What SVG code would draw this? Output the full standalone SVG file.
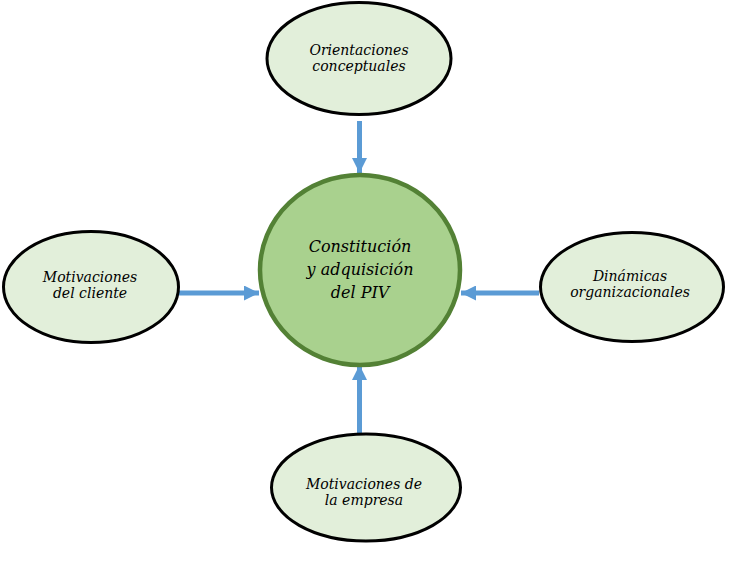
<svg xmlns="http://www.w3.org/2000/svg" width="734" height="562" viewBox="0 0 734 562">
<style>
.sat{fill:#E2EFDA;stroke:#000;stroke-width:3}
.core{fill:#A9D18E;stroke:#538135;stroke-width:4.5}
.t{font-family:"DejaVu Serif","Liberation Serif",serif;font-style:italic;font-size:14px;fill:#000;text-anchor:middle}
.tc{font-size:16px}
.c{stroke:#5B9BD5;stroke-width:5;fill:none}
</style>
<defs>
<marker id="ah" viewBox="0 0 10 10" refX="10" refY="5" markerWidth="3" markerHeight="3" orient="auto" markerUnits="strokeWidth">
<path d="M0,0 L10,5 L0,10 z" fill="#5B9BD5"/>
</marker>
</defs>
<rect width="734" height="562" fill="#fff"/>
<g id="connectors">
<line class="c" x1="359.5" y1="121" x2="359.5" y2="173" marker-end="url(#ah)"/>
<line class="c" x1="179" y1="293" x2="259" y2="293" marker-end="url(#ah)"/>
<line class="c" x1="539" y1="293" x2="461" y2="293" marker-end="url(#ah)"/>
<line class="c" x1="359.5" y1="434" x2="359.5" y2="365" marker-end="url(#ah)"/>
</g>
<g id="center">
<ellipse class="core" cx="360" cy="270" rx="100" ry="95"/>
<text class="t tc" x="360" y="252">Constitución</text>
<text class="t tc" x="360" y="275">y adquisición</text>
<text class="t tc" x="360" y="298">del PIV</text>
</g>
<g id="top">
<ellipse class="sat" cx="359" cy="58.5" rx="92" ry="56"/>
<text class="t" x="359" y="55">Orientaciones</text>
<text class="t" x="359" y="71">conceptuales</text>
</g>
<g id="left">
<ellipse class="sat" cx="91" cy="287" rx="87.5" ry="55.5"/>
<text class="t" x="90" y="282">Motivaciones</text>
<text class="t" x="90" y="298">del cliente</text>
</g>
<g id="right">
<ellipse class="sat" cx="632" cy="287" rx="91.5" ry="54.5"/>
<text class="t" x="630" y="281">Dinámicas</text>
<text class="t" x="630" y="297">organizacionales</text>
</g>
<g id="bottom">
<ellipse class="sat" cx="366" cy="487.5" rx="94.5" ry="53.5"/>
<text class="t" x="364" y="489">Motivaciones de</text>
<text class="t" x="364" y="505">la empresa</text>
</g>
</svg>
